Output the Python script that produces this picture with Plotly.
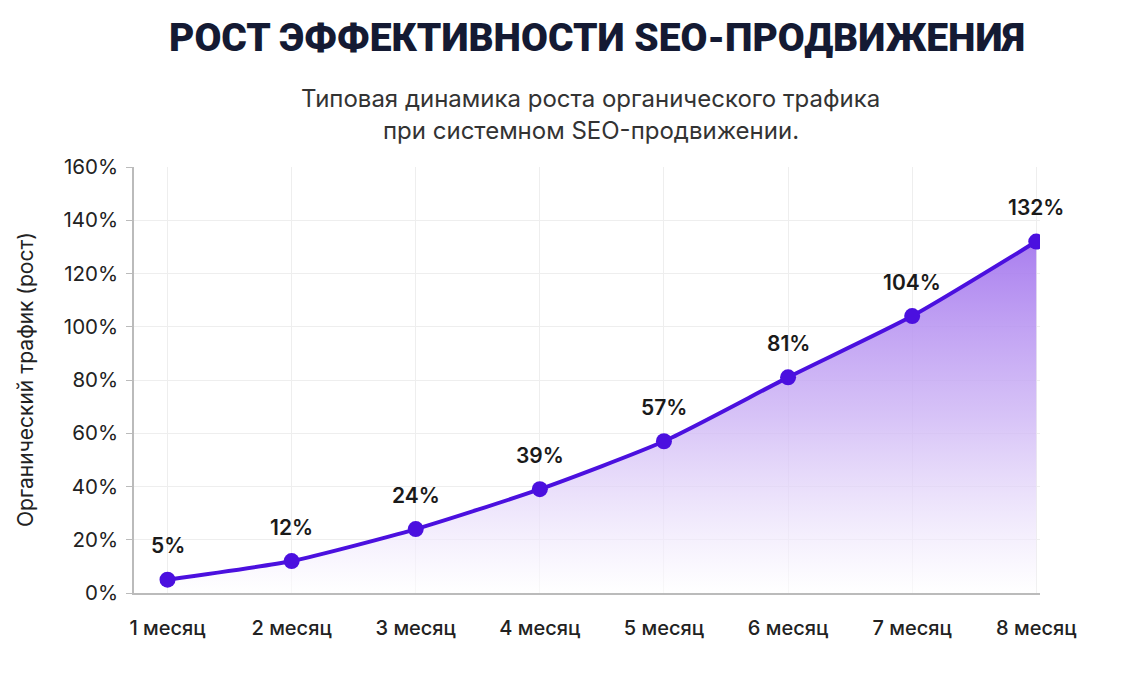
import plotly.graph_objects as go

months = ["1 месяц", "2 месяц", "3 месяц", "4 месяц", "5 месяц", "6 месяц", "7 месяц", "8 месяц"]
growth = [5, 12, 24, 39, 57, 81, 104, 132]
labels = ["5%", "12%", "24%", "39%", "57%", "81%", "104%", "132%"]
y_ticks = [0, 20, 40, 60, 80, 100, 120, 140, 160]
y_tick_text = ["0%", "20%", "40%", "60%", "80%", "100%", "120%", "140%", "160%"]

title = "РОСТ ЭФФЕКТИВНОСТИ SEO-ПРОДВИЖЕНИЯ"
subtitle_lines = ["Типовая динамика роста органического трафика", "при системном SEO-продвижении."]
y_title = "Органический трафик (рост)"

LINE = "#4B10DF"
FONT = "Inter"

x_idx = list(range(len(months)))

fig = go.Figure()
fig.add_trace(go.Scatter(
    x=x_idx, y=growth,
    mode="lines+markers",
    line=dict(color=LINE, width=4, shape="spline", smoothing=0.6),
    marker=dict(color=LINE, size=16),
    fill="tozeroy",
    fillgradient=dict(type="vertical", start=0, stop=132,
                      colorscale=[[0, "rgba(255,255,255,0.6)"], [0.5, "rgba(205,180,245,0.8)"], [1, "rgba(165,120,238,0.95)"]]),
    hoverinfo="skip",
    showlegend=False,
))

for xi, yv, lab in zip(x_idx, growth, labels):
    fig.add_annotation(x=xi, y=yv, text=lab, showarrow=False, yshift=34,
                       font=dict(family=FONT, size=21, color="#1a1a1a", weight=600))

fig.add_annotation(xref="paper", yref="paper", x=0.511, y=1.0, yshift=129, text=title,
                   showarrow=False, xanchor="center", yanchor="middle",
                   font=dict(family="Roboto", size=39, color="#141A33", weight=900))
for i, line in enumerate(subtitle_lines):
    fig.add_annotation(xref="paper", yref="paper", x=0.504, y=1.0, yshift=69 - 32 * i, text=line,
                       showarrow=False, xanchor="center", yanchor="middle",
                       font=dict(family=FONT, size=24, color="#333333"))

fig.add_annotation(xref="paper", yref="paper", x=(25 - 134) / 906, y=0.5, text=y_title,
                   showarrow=False, xanchor="center", yanchor="middle", textangle=-90,
                   font=dict(family=FONT, size=21, color="#222222"))

fig.update_layout(
    width=1122, height=673,
    margin=dict(l=134, r=82, t=167, b=80),
    paper_bgcolor="white", plot_bgcolor="white",
    font=dict(family=FONT, color="#222222"),
    xaxis=dict(
        range=[-0.27, 7.03],
        tickmode="array", tickvals=x_idx, ticktext=months,
        tickfont=dict(family=FONT, size=20, color="#222222", weight=500),
        showgrid=True, gridcolor="#EEEEEE", gridwidth=1,
        showline=True, linecolor="#BBBBBB", linewidth=1.5,
        ticks="", ticklabelstandoff=16, zeroline=False,
    ),
    yaxis=dict(
        range=[0, 160],
        tickmode="array", tickvals=y_ticks, ticktext=y_tick_text,
        tickfont=dict(family=FONT, size=20.5, color="#222222"),
        showgrid=True, gridcolor="#EEEEEE", gridwidth=1,
        showline=True, linecolor="#BBBBBB", linewidth=1.5,
        ticks="outside", ticklen=6, tickcolor="#BBBBBB",
        ticklabelstandoff=4,
        zeroline=False,
    ),
)

fig.write_html("out.html")
